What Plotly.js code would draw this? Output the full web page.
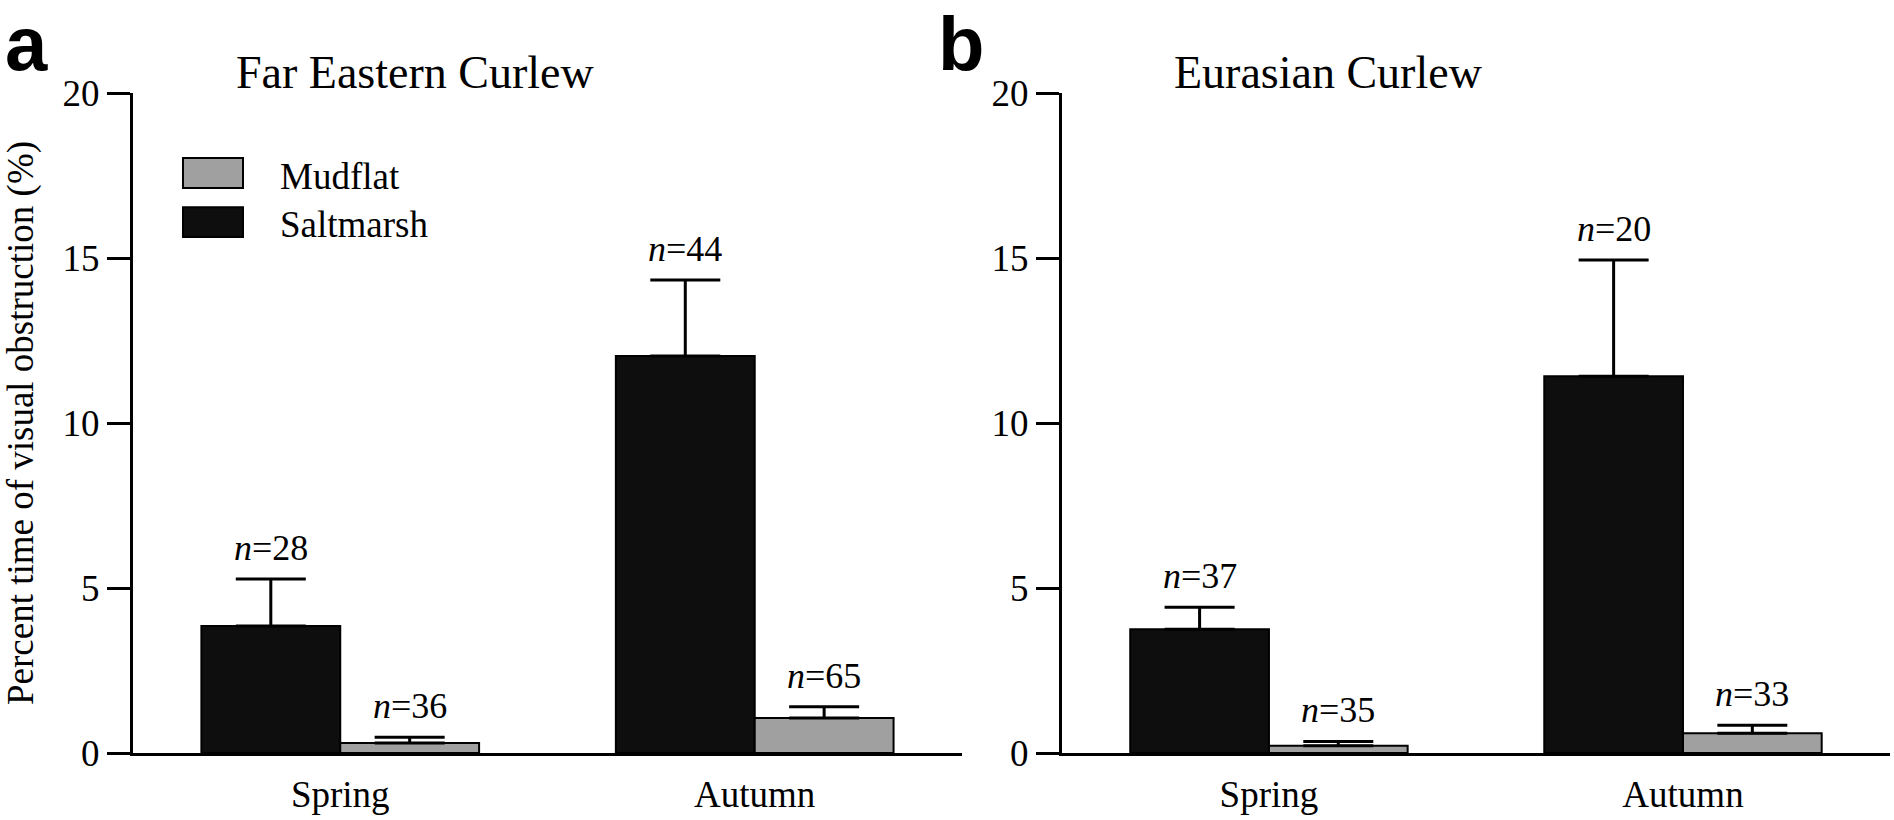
<!DOCTYPE html>
<html>
<head>
<meta charset="utf-8">
<script src="https://cdn.plot.ly/plotly-3.0.1.min.js"></script>
<style>html,body{margin:0;padding:0;background:#fff;}#chart{width:1894px;height:820px;}</style>
</head>
<body>
<div id="chart"></div>
<script>
// ---- data ----
const categories = ['Spring', 'Autumn'];
const seriesNames = ['Saltmarsh', 'Mudflat'];
const panelTitles = ['Far Eastern Curlew', 'Eurasian Curlew'];
const panelLetters = ['a', 'b'];
const yTickVals = [0, 5, 10, 15, 20];
const yTitle = 'Percent time of visual obstruction (%)';

const farSaltmarsh = [3.85, 12.03];
const farSaltmarshErr = [1.42, 2.30];
const farMudflat = [0.30, 1.06];
const farMudflatErr = [0.18, 0.34];
const farSaltmarshN = [28, 44];
const farMudflatN = [36, 65];

const eurSaltmarsh = [3.75, 11.42];
const eurSaltmarshErr = [0.67, 3.52];
const eurMudflat = [0.22, 0.60];
const eurMudflatErr = [0.13, 0.24];
const eurSaltmarshN = [37, 20];
const eurMudflatN = [35, 33];

// ---- style ----
const serif = 'Liberation Serif, Times New Roman, serif';
const saltColor = '#0e0e0e';
const mudColor = '#a0a0a0';
const bargap = 0.33;
const half = (1 - bargap) / 4;

function barTrace(name, y, err, color, xa, ya) {
  return {
    type: 'bar', name: name, x: categories, y: y, xaxis: xa, yaxis: ya,
    marker: {color: color, line: {color: '#000', width: 2}},
    error_y: {type: 'data', symmetric: false, array: err, arrayminus: err.map(() => 0),
              color: '#000', thickness: 3, width: 35},
    showlegend: false, hoverinfo: 'x+y'
  };
}

const data = [
  barTrace(seriesNames[0], farSaltmarsh, farSaltmarshErr, saltColor, 'x', 'y'),
  barTrace(seriesNames[1], farMudflat, farMudflatErr, mudColor, 'x', 'y'),
  barTrace(seriesNames[0], eurSaltmarsh, eurSaltmarshErr, saltColor, 'x2', 'y2'),
  barTrace(seriesNames[1], eurMudflat, eurMudflatErr, mudColor, 'x2', 'y2')
];

const annotations = [];
function nLabels(vals, errs, ns, side, xref, yref) {
  vals.forEach((v, i) => {
    annotations.push({
      xref: xref, yref: yref, x: i + side * half, y: v + errs[i],
      text: '<i>n</i>=' + ns[i], showarrow: false, yanchor: 'bottom', yshift: 9,
      font: {family: serif, size: 36, color: '#000'}
    });
  });
}
nLabels(farSaltmarsh, farSaltmarshErr, farSaltmarshN, -1, 'x', 'y');
nLabels(farMudflat, farMudflatErr, farMudflatN, 1, 'x', 'y');
nLabels(eurSaltmarsh, eurSaltmarshErr, eurSaltmarshN, -1, 'x2', 'y2');
nLabels(eurMudflat, eurMudflatErr, eurMudflatN, 1, 'x2', 'y2');

// panel titles
annotations.push({xref: 'x domain', yref: 'paper', x: 0.122, y: 0.99, xanchor: 'left', yanchor: 'bottom',
  text: panelTitles[0], showarrow: false, font: {family: serif, size: 46, color: '#000'}});
annotations.push({xref: 'x2 domain', yref: 'paper', x: 0.133, y: 0.99, xanchor: 'left', yanchor: 'bottom',
  text: panelTitles[1], showarrow: false, font: {family: serif, size: 46, color: '#000'}});
// panel letters
annotations.push({xref: 'paper', yref: 'paper', x: -0.074, y: 1.008, xanchor: 'left', yanchor: 'bottom',
  text: '<b>' + panelLetters[0] + '</b>', showarrow: false, font: {family: 'Liberation Sans, Arial, sans-serif', size: 76, color: '#000'}});
annotations.push({xref: 'paper', yref: 'paper', x: 0.457, y: 1.008, xanchor: 'left', yanchor: 'bottom',
  text: '<b>' + panelLetters[1] + '</b>', showarrow: false, font: {family: 'Liberation Sans, Arial, sans-serif', size: 76, color: '#000'}});
// custom legend text
annotations.push({xref: 'x domain', yref: 'y domain', x: 0.175, y: 0.874, xanchor: 'left', yanchor: 'middle',
  text: seriesNames[1], showarrow: false, font: {family: serif, size: 37, color: '#000'}});
annotations.push({xref: 'x domain', yref: 'y domain', x: 0.175, y: 0.80, xanchor: 'left', yanchor: 'middle',
  text: seriesNames[0], showarrow: false, font: {family: serif, size: 37, color: '#000'}});

const shapes = [
  {type: 'rect', xref: 'x domain', yref: 'y domain', x0: 0.0603, x1: 0.1327, y0: 0.856, y1: 0.9015,
   fillcolor: mudColor, line: {color: '#000', width: 2}},
  {type: 'rect', xref: 'x domain', yref: 'y domain', x0: 0.0603, x1: 0.1327, y0: 0.782, y1: 0.827,
   fillcolor: saltColor, line: {color: '#000', width: 2}}
];

function xAxis(domain) {
  return {domain: domain, range: [-0.5, 1.5], showline: true, linewidth: 3, linecolor: '#000',
    ticks: '', showgrid: false, zeroline: false, ticklabelstandoff: 7,
    tickfont: {family: serif, size: 37, color: '#000'}, fixedrange: true};
}
function yAxis(anchor, withTitle) {
  const a = {anchor: anchor, range: [0, 20], tickvals: yTickVals, ticks: 'outside', ticklen: 23, tickwidth: 3,
    tickcolor: '#000', showline: true, linewidth: 3, linecolor: '#000', showgrid: false, zeroline: false,
    tickfont: {family: serif, size: 37, color: '#000'}, fixedrange: true};
  if (withTitle) a.title = {text: yTitle, font: {family: serif, size: 37, color: '#000'}, standoff: 18};
  return a;
}

const layout = {
  width: 1894, height: 820,
  margin: {l: 133, r: 4, t: 93, b: 67, autoexpand: false},
  paper_bgcolor: '#fff', plot_bgcolor: '#fff',
  barmode: 'group', bargap: bargap, bargroupgap: 0,
  xaxis: Object.assign(xAxis([0, 0.4718]), {anchor: 'y'}),
  yaxis: yAxis('x', true),
  xaxis2: Object.assign(xAxis([0.5287, 1]), {anchor: 'y2'}),
  yaxis2: yAxis('x2', false),
  annotations: annotations,
  shapes: shapes,
  showlegend: false
};

Plotly.newPlot('chart', data, layout, {displayModeBar: false, staticPlot: true});
</script>
</body>
</html>
